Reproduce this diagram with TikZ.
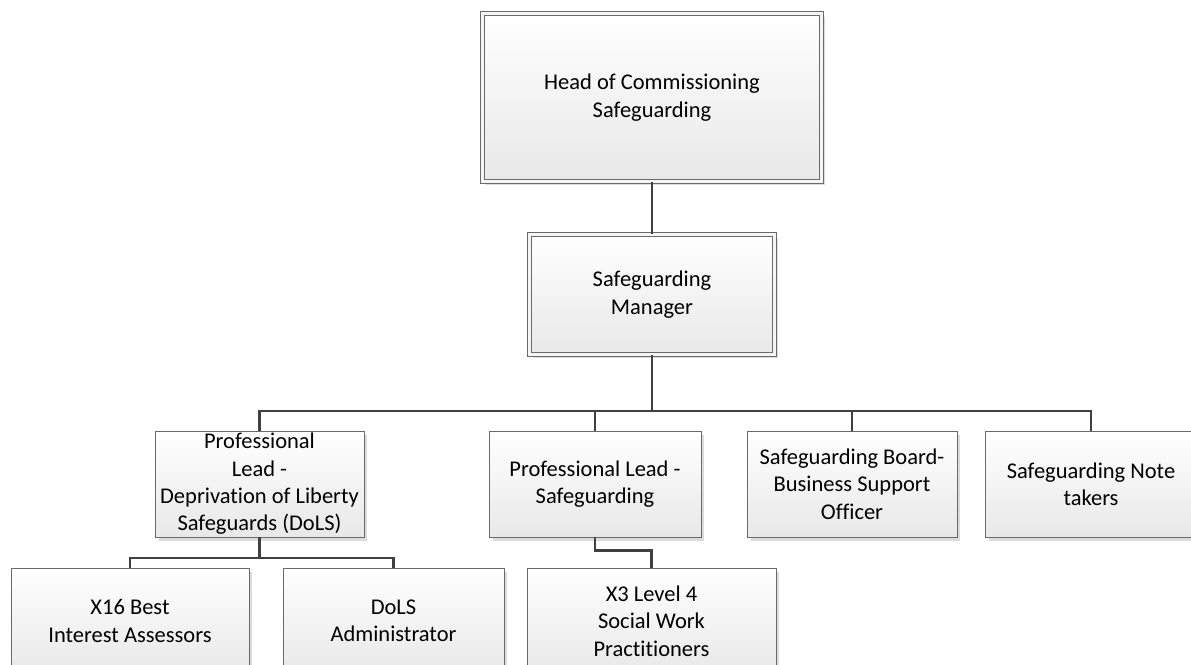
\documentclass[tikz,border=0pt]{standalone}
\usepackage{fontspec}
\setmainfont{Carlito}[Ligatures=NoCommon]
\usetikzlibrary{shadows}
\definecolor{boxline}{HTML}{6A6A6A}
\definecolor{linkcol}{HTML}{404040}
\tikzset{
  orgbox/.style={draw=boxline, line width=0.5pt, top color=white, bottom color=black!9,
    inner sep=0pt, align=center, font=\fontsize{12.8}{15.6}\selectfont,
    drop shadow={shadow xshift=0.07cm, shadow yshift=-0.07cm, fill=black!14, opacity=1}},
  topbox/.style={orgbox, double=white!96!black, double distance=0.06cm},
  link/.style={draw=linkcol, line width=1.3pt}
}
\begin{document}
\begin{tikzpicture}[x=0.02cm, y=-0.02cm]
    \useasboundingbox (0,0) rectangle (1191,664);
    \fill[white] (0,0) rectangle (1191,664);
    \clip (0,0) rectangle (1191,664);
    % top two levels
    \node[topbox, minimum width=6.79cm, minimum height=3.37cm] (head) at (652,97.5) {Head of Commissioning\\Safeguarding};
    \node[topbox, minimum width=4.89cm, minimum height=2.41cm] (mgr) at (652,294.5) {Safeguarding\\Manager};
    % second row
    \node[orgbox, minimum width=4.18cm, minimum height=2.12cm] (dols) at (259.5,484) {Professional\\Lead -\\Deprivation of Liberty\\Safeguards (DoLS)};
    \node[orgbox, minimum width=4.24cm, minimum height=2.12cm] (prof) at (595,484) {Professional Lead -\\Safeguarding};
    \node[orgbox, minimum width=4.2cm, minimum height=2.12cm] (board) at (852,484) {Safeguarding Board-\\Business Support\\Officer};
    \node[orgbox, minimum width=4.24cm, minimum height=2.12cm] (notes) at (1091,484) {Safeguarding Note\\takers};
    % third row
    \node[orgbox, minimum width=4.76cm, minimum height=2.12cm] (bia) at (130,621) {X16 Best\\Interest Assessors};
    \node[orgbox, minimum width=4.42cm, minimum height=2.12cm] (admin) at (393.5,621) {DoLS\\Administrator};
    \node[orgbox, minimum width=4.98cm, minimum height=2.12cm] (swp) at (651.5,621) {X3 Level 4\\Social Work\\Practitioners};
    % connectors
    \coordinate (bus) at (652,411);
    \coordinate (dolsjoin) at (259.5,558);
    \draw[link] (head.south) -- (head.south |- mgr.north);
    \draw[link] (mgr.south) -- (bus);
    \foreach \n in {dols,prof,board,notes}
        \draw[link] (bus) -| (\n.north);
    \draw[link] (dols.south) -- (dolsjoin);
    \draw[link] (dolsjoin) -| (bia.north);
    \draw[link] (dolsjoin) -| (admin.north);
    \draw[link] (prof.south) -- ++(0,13) -| (swp.north);
\end{tikzpicture}
\end{document}
